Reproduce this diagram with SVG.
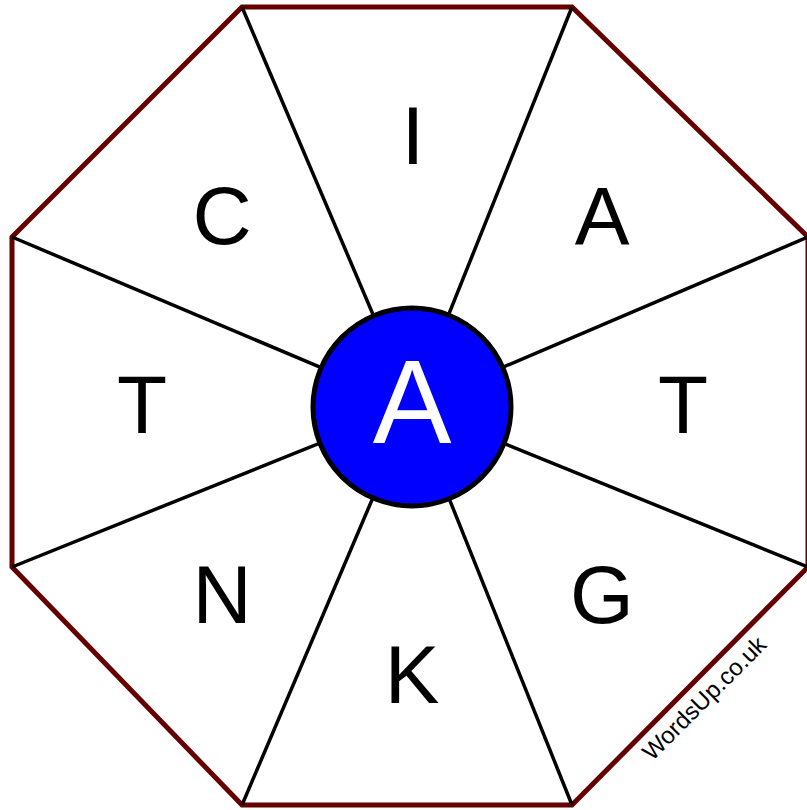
<svg xmlns="http://www.w3.org/2000/svg" width="807" height="810" viewBox="0 0 807 810">
  <style>
    .letter { font-family: "Liberation Sans", Arial, sans-serif; font-size: 82px; fill: #000; text-anchor: middle; }
    .center { font-family: "Liberation Sans", Arial, sans-serif; font-size: 118px; fill: #fff; text-anchor: middle; }
    .spoke { stroke: #000; stroke-width: 3.5; fill: none; }
    .mark { font-family: "Liberation Sans", Arial, sans-serif; font-size: 24px; fill: #000; text-anchor: middle; }
  </style>
  <rect width="807" height="810" fill="#fff"/>
  <g id="octagon">
    <polygon points="242,7 572,7 808,237 808,567 572,805 242,805 12,567 12,237" fill="#fff" stroke="#660000" stroke-width="5" stroke-linejoin="miter"/>
  </g>
  <g id="connectors">
    <line class="spoke" x1="412" y1="406" x2="242" y2="7"/>
    <line class="spoke" x1="412" y1="406" x2="572" y2="7"/>
    <line class="spoke" x1="412" y1="406" x2="808" y2="237"/>
    <line class="spoke" x1="412" y1="406" x2="808" y2="567"/>
    <line class="spoke" x1="412" y1="406" x2="572" y2="805"/>
    <line class="spoke" x1="412" y1="406" x2="242" y2="805"/>
    <line class="spoke" x1="412" y1="406" x2="12" y2="567"/>
    <line class="spoke" x1="412" y1="406" x2="12" y2="237"/>
  </g>
  <g id="node-I"><text class="letter" x="413" y="164">I</text></g>
  <g id="node-A1"><text class="letter" x="602" y="244">A</text></g>
  <g id="node-T1"><text class="letter" x="683" y="433">T</text></g>
  <g id="node-G"><text class="letter" x="602" y="623">G</text></g>
  <g id="node-K"><text class="letter" x="412" y="703">K</text></g>
  <g id="node-N"><text class="letter" x="222" y="623">N</text></g>
  <g id="node-T2"><text class="letter" x="142" y="433">T</text></g>
  <g id="node-C"><text class="letter" x="222" y="244">C</text></g>
  <g id="node-center">
    <circle cx="412" cy="407" r="99" fill="#0000ff" stroke="#000" stroke-width="5"/>
    <text class="center" x="412" y="443">A</text>
  </g>
  <g id="watermark">
    <text class="mark" transform="translate(710,704) rotate(-45)">WordsUp.co.uk</text>
  </g>
</svg>
